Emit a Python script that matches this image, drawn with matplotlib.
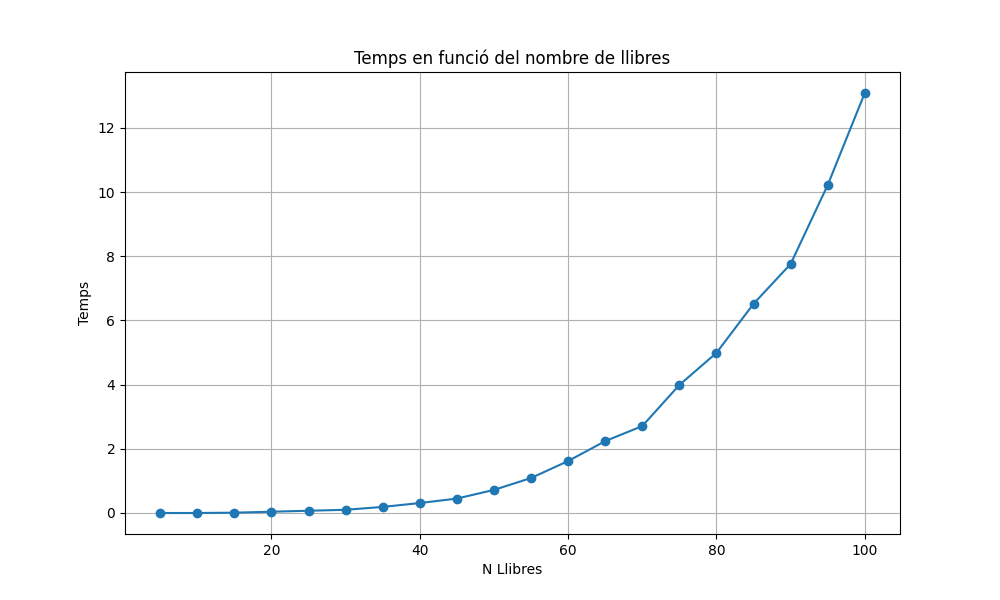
import matplotlib
matplotlib.use("Agg")
import matplotlib.pyplot as plt

n_llibres = [5, 10, 15, 20, 25, 30, 35, 40, 45, 50, 55, 60, 65, 70, 75, 80, 85, 90, 95, 100]
temps = [0.0, 0.0, 0.01, 0.04, 0.07, 0.10, 0.19, 0.31, 0.45, 0.72, 1.09, 1.62, 2.24, 2.71,
         3.99, 4.99, 6.52, 7.76, 10.22, 13.09]

fig, ax = plt.subplots(figsize=(10, 6), dpi=100)
ax.plot(n_llibres, temps, marker='o')
ax.set_title("Temps en funció del nombre de llibres")
ax.set_xlabel("N Llibres")
ax.set_ylabel("Temps")
ax.grid(True)
fig.savefig("out.png")
